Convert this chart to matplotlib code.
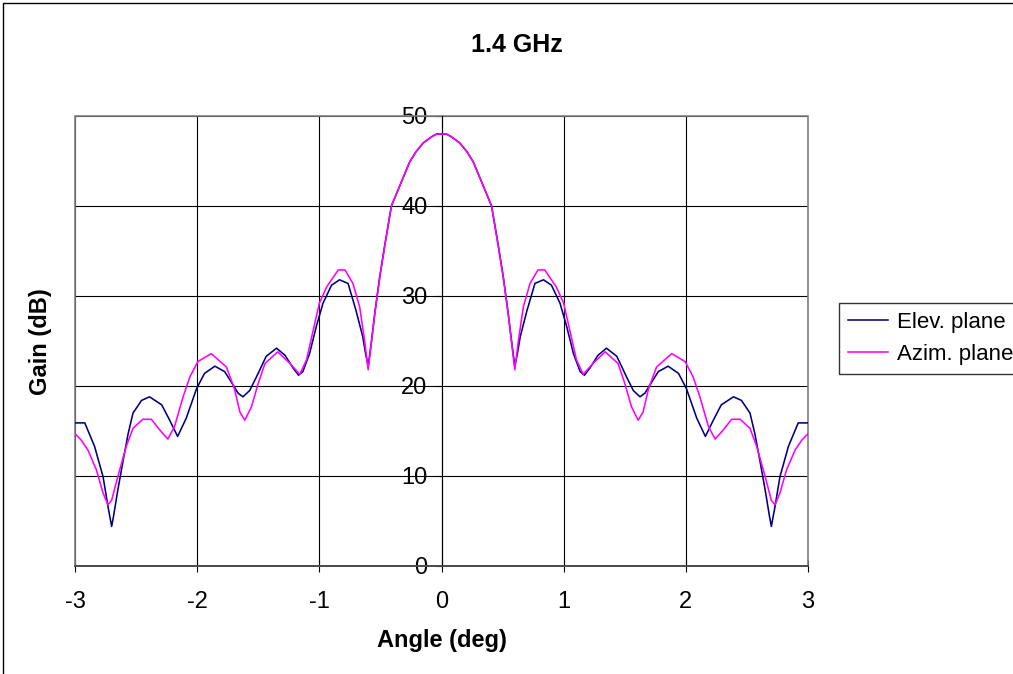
import matplotlib
matplotlib.use("Agg")
import matplotlib.pyplot as plt
from matplotlib.patches import Rectangle

title = "1.4 GHz"
xlabel = "Angle (deg)"
ylabel = "Gain (dB)"
series_names = ["Elev. plane", "Azim. plane"]
x_ticks = [-3, -2, -1, 0, 1, 2, 3]
y_ticks = [0, 10, 20, 30, 40, 50]

elev_angle = [-3.0, -2.92, -2.84, -2.77, -2.73, -2.70, -2.685, -2.65, -2.605, -2.565, -2.525,
              -2.455, -2.39, -2.29, -2.225, -2.16, -2.09, -2.005, -1.94, -1.855, -1.775,
              -1.705, -1.665, -1.625, -1.57, -1.515, -1.435, -1.35, -1.28, -1.215, -1.17,
              -1.135, -1.08, -1.025, -0.97, -0.90, -0.835, -0.765, -0.70, -0.645, -0.62,
              -0.60, -0.575, -0.545, -0.505, -0.465, -0.41, -0.34, -0.30, -0.26, -0.21,
              -0.15, -0.08, -0.04, 0.0,
              0.04, 0.08, 0.15, 0.21, 0.26, 0.30, 0.34, 0.41, 0.465, 0.505, 0.545, 0.575,
              0.60, 0.62, 0.645, 0.70, 0.765, 0.835, 0.90, 0.97, 1.025, 1.08, 1.135, 1.17,
              1.215, 1.28, 1.35, 1.435, 1.515, 1.57, 1.625, 1.665, 1.705, 1.775, 1.855,
              1.94, 2.005, 2.09, 2.16, 2.225, 2.29, 2.39, 2.455, 2.525, 2.565, 2.605,
              2.65, 2.685, 2.70, 2.73, 2.77, 2.84, 2.92, 3.0]
elev_gain = [15.9, 15.9, 13.3, 9.9, 6.6, 4.4, 5.5, 8.4, 11.8, 14.7, 17.0,
             18.4, 18.8, 17.9, 16.2, 14.4, 16.4, 19.7, 21.4, 22.2, 21.6,
             20.1, 19.2, 18.8, 19.5, 21.0, 23.3, 24.2, 23.4, 22.0, 21.2,
             21.6, 23.6, 26.6, 29.2, 31.2, 31.8, 31.4, 28.4, 25.5, 23.5,
             22.2, 24.8, 28.2, 32.2, 35.6, 40.0, 42.3, 43.6, 44.9, 46.0,
             47.0, 47.7, 48.0, 48.0,
             48.0, 47.7, 47.0, 46.0, 44.9, 43.6, 42.3, 40.0, 35.6, 32.2, 28.2, 24.8,
             22.2, 23.5, 25.5, 28.4, 31.4, 31.8, 31.2, 29.2, 26.6, 23.6, 21.6, 21.2,
             22.0, 23.4, 24.2, 23.3, 21.0, 19.5, 18.8, 19.2, 20.1, 21.6, 22.2,
             21.4, 19.7, 16.4, 14.4, 16.2, 17.9, 18.8, 18.4, 17.0, 14.7, 11.8,
             8.4, 5.5, 4.4, 6.6, 9.9, 13.3, 15.9, 15.9]

azim_angle = [-3.0, -2.95, -2.895, -2.825, -2.77, -2.73, -2.70, -2.65, -2.58, -2.525,
              -2.445, -2.375, -2.305, -2.24, -2.185, -2.115, -2.06, -1.995, -1.885, -1.76,
              -1.695, -1.65, -1.61, -1.555, -1.50, -1.445, -1.34, -1.24, -1.16, -1.105,
              -1.05, -1.00, -0.94, -0.845, -0.79, -0.725, -0.67, -0.63, -0.60, -0.575,
              -0.545, -0.505, -0.465, -0.41, -0.34, -0.30, -0.26, -0.21, -0.15, -0.08,
              -0.04, 0.0,
              0.04, 0.08, 0.15, 0.21, 0.26, 0.30, 0.34, 0.41, 0.465, 0.505, 0.545, 0.575,
              0.60, 0.63, 0.67, 0.725, 0.79, 0.845, 0.94, 1.00, 1.05, 1.105, 1.16, 1.24,
              1.34, 1.445, 1.50, 1.555, 1.61, 1.65, 1.695, 1.76, 1.885, 1.995, 2.06,
              2.115, 2.185, 2.24, 2.305, 2.375, 2.445, 2.525, 2.58, 2.65, 2.70, 2.73,
              2.77, 2.825, 2.895, 2.95, 3.0]
azim_gain = [14.7, 14.0, 12.9, 10.7, 8.1, 6.8, 7.3, 9.9, 13.3, 15.3,
             16.3, 16.3, 15.1, 14.1, 15.5, 18.8, 21.0, 22.7, 23.6, 22.1,
             19.7, 17.1, 16.2, 17.7, 20.3, 22.5, 23.8, 22.5, 21.3, 22.9,
             26.2, 29.2, 31.0, 32.9, 32.9, 31.4, 28.8, 25.1, 21.8, 24.7,
             28.1, 32.1, 35.5, 40.0, 42.3, 43.6, 44.9, 46.0, 47.0, 47.7,
             48.0, 48.0,
             48.0, 47.7, 47.0, 46.0, 44.9, 43.6, 42.3, 40.0, 35.5, 32.1, 28.1, 24.7,
             21.8, 25.1, 28.8, 31.4, 32.9, 32.9, 31.0, 29.2, 26.2, 22.9, 21.3, 22.5,
             23.8, 22.5, 20.3, 17.7, 16.2, 17.1, 19.7, 22.1, 23.6, 22.7, 21.0,
             18.8, 15.5, 14.1, 15.1, 16.3, 16.3, 15.3, 13.3, 9.9, 7.3, 6.8,
             8.1, 10.7, 12.9, 14.0, 14.7]

plt.rcParams['font.family'] = ['Liberation Sans', 'DejaVu Sans']

W, H = 1013, 674
fig = plt.figure(figsize=(W / 100, H / 100), dpi=100)
fig.patch.set_facecolor('white')

# outer chart border (right/bottom edges fall outside the picture)
fig.patches.append(Rectangle((3 / W, -0.05), 1.2, 1 - 3 / H + 0.05, transform=fig.transFigure,
                             fill=False, edgecolor='black', linewidth=1.0))

ax = fig.add_axes([75 / W, 1 - 566 / H, (808 - 75) / W, (566 - 116) / H])
ax.set_xlim(-3, 3)
ax.set_ylim(0, 50)

ax.plot(elev_angle, elev_gain, color='#000080', linewidth=1.15, label=series_names[0], zorder=3)
ax.plot(azim_angle, azim_gain, color='#FF00FF', linewidth=1.15, label=series_names[1], zorder=3)

ax.set_xticks(x_ticks)
ax.set_yticks(y_ticks)
ax.set_xticklabels([str(v) for v in x_ticks])
ax.set_yticklabels([str(v) for v in y_ticks])
ax.grid(True, color='black', linewidth=0.8, zorder=1)
ax.set_axisbelow(True)

for s in ['top', 'right']:
    ax.spines[s].set_visible(False)
ax.spines['left'].set_position(('data', 0))
ax.spines['left'].set_color('black')
ax.spines['bottom'].set_color('#404040')
ax.spines['bottom'].set_linewidth(1.2)

# gray plot-area border
ax.add_patch(Rectangle((0, 0), 1, 1, transform=ax.transAxes, fill=False,
                       edgecolor='#808080', linewidth=1.2, zorder=2, clip_on=False))

ax.tick_params(axis='y', direction='out', length=5, width=0.8, pad=5, labelsize=17)
ax.tick_params(axis='x', direction='inout', length=8, width=0.8, pad=14, labelsize=17)

fig.text(517 / W, 1 - 45 / H, title, ha='center', va='center', fontsize=18, fontweight='bold')
fig.text(442 / W, 1 - 640 / H, xlabel, ha='center', va='center', fontsize=17, fontweight='bold')
fig.text(41 / W, 1 - 342 / H, ylabel, ha='center', va='center', fontsize=17, fontweight='bold',
         rotation=90)

leg = fig.legend(loc='upper left', bbox_to_anchor=(839 / W, 1 - 303 / H), frameon=True,
                 fontsize=16, fancybox=False, handlelength=1.8, handletextpad=0.4,
                 borderpad=0.4, labelspacing=0.5, borderaxespad=0)
leg.get_frame().set_edgecolor('black')
leg.get_frame().set_linewidth(1.0)

fig.savefig('out.png', dpi=100, facecolor='white')
